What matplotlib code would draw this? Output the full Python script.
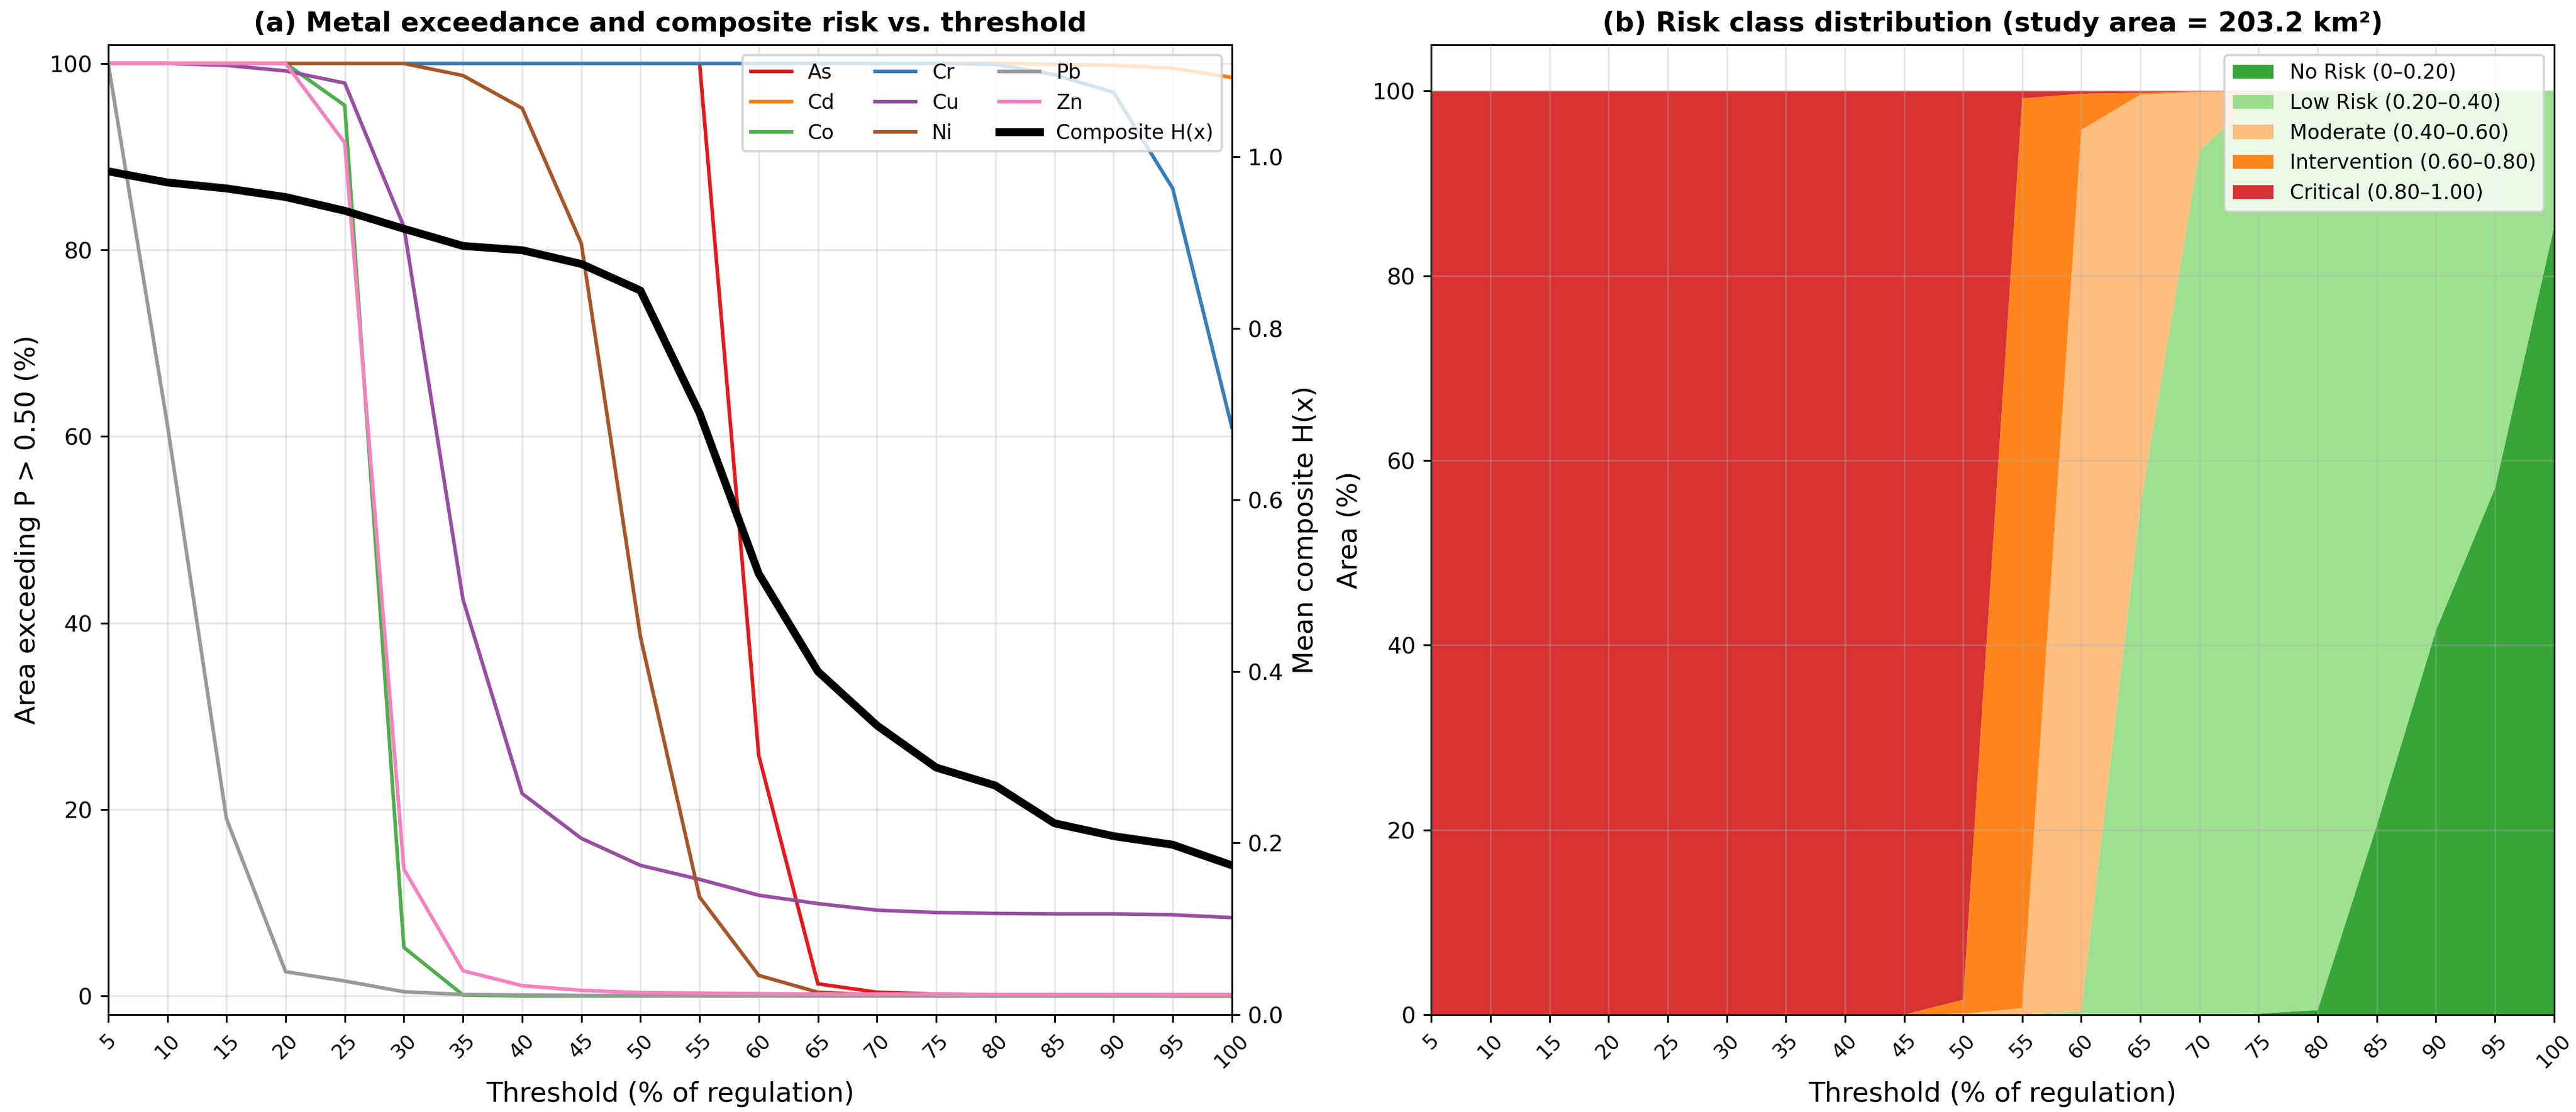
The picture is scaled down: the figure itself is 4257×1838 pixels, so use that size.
import numpy as np
import matplotlib
matplotlib.use("Agg")
import matplotlib.pyplot as plt

# thresholds (% of regulation)
thresholds = [5, 10, 15, 20, 25, 30, 35, 40, 45, 50, 55, 60, 65, 70, 75, 80, 85, 90, 95, 100]

# area exceeding P > 0.50 (%) per metal
As = [100, 100, 100, 100, 100, 100, 100, 100, 100, 100, 100, 25.8, 1.3, 0.4, 0.2, 0.1, 0.1, 0.05, 0.0, 0.0]
Cd = [100, 100, 100, 100, 100, 100, 100, 100, 100, 100, 100, 100, 100, 100, 100, 100, 99.9, 99.8, 99.5, 98.5]
Co = [100, 100, 100, 100, 95.5, 5.2, 0.1, 0, 0, 0, 0, 0, 0, 0, 0, 0, 0, 0, 0, 0]
Cr = [100, 100, 100, 100, 100, 100, 100, 100, 100, 100, 100, 100, 100, 100, 100, 99.9, 98.8, 96.9, 86.6, 61.0]
Cu = [100, 100, 99.8, 99.2, 97.9, 82.5, 42.5, 21.7, 16.9, 14.0, 12.5, 10.8, 9.9, 9.2, 8.95, 8.85, 8.8, 8.8, 8.7, 8.4]
Ni = [100, 100, 100, 100, 100, 100, 98.7, 95.2, 80.7, 38.5, 10.6, 2.2, 0.4, 0.1, 0, 0, 0, 0, 0, 0]
Pb = [100, 61.3, 19.0, 2.6, 1.6, 0.45, 0.15, 0.1, 0.05, 0.05, 0, 0, 0, 0, 0, 0, 0, 0, 0, 0]
Zn = [100, 100, 100, 100, 91.5, 13.6, 2.7, 1.1, 0.6, 0.35, 0.3, 0.25, 0.2, 0.2, 0.2, 0.15, 0.15, 0.15, 0.15, 0.15]

# mean composite H(x)
composite = [0.983, 0.970, 0.963, 0.953, 0.937, 0.916, 0.896, 0.891, 0.875, 0.844,
             0.701, 0.514, 0.400, 0.337, 0.288, 0.267, 0.223, 0.208, 0.198, 0.174]

# risk class area (%)
no_risk = [0, 0, 0, 0, 0, 0, 0, 0, 0, 0, 0, 0, 0, 0, 0.1, 0.5, 20.5, 41.6, 57.0, 85.3]
low_risk = [0, 0, 0, 0, 0, 0, 0, 0, 0, 0, 0, 0.4, 55.1, 93.5, 99.5, 99.5, 79.5, 58.4, 43.0, 14.7]
moderate = [0, 0, 0, 0, 0, 0, 0, 0, 0, 0.1, 0.7, 95.4, 44.5, 6.4, 0.4, 0, 0, 0, 0, 0]
intervention = [0, 0, 0, 0, 0, 0, 0, 0, 0, 1.5, 98.5, 3.9, 0.2, 0.05, 0, 0, 0, 0, 0, 0]
critical = [100, 100, 100, 100, 100, 100, 100, 100, 100, 98.4, 0.8, 0.3, 0.2, 0.05, 0, 0, 0, 0, 0, 0]

metals = {'As': As, 'Cd': Cd, 'Co': Co, 'Cr': Cr, 'Cu': Cu, 'Ni': Ni, 'Pb': Pb, 'Zn': Zn}
metal_colors = {'As': '#e41a1c', 'Cd': '#ff7f00', 'Co': '#4daf4a', 'Cr': '#377eb8',
                'Cu': '#984ea3', 'Ni': '#a65628', 'Pb': '#999999', 'Zn': '#f781bf'}

class_labels = ['No Risk (0–0.20)', 'Low Risk (0.20–0.40)', 'Moderate (0.40–0.60)',
                'Intervention (0.60–0.80)', 'Critical (0.80–1.00)']
class_colors = ['#2ca02c', '#98df8a', '#ffbb78', '#ff7f0e', '#d62728']

DPI = 268
fig = plt.figure(figsize=(4257 / DPI, 1838 / DPI), dpi=DPI)

# ---------- (a) ----------
ax1 = fig.add_axes([0.0420, 0.0876, 0.4362, 0.8721])
for name, vals in metals.items():
    ax1.plot(thresholds, vals, color=metal_colors[name], lw=1.6, label=name)
ax1.set_xlim(5, 100)
ax1.set_ylim(-2, 102)
ax1.set_xticks(thresholds)
ax1.set_xticklabels([str(t) for t in thresholds], rotation=45, fontsize=9)
ax1.set_yticks([0, 20, 40, 60, 80, 100])
ax1.tick_params(axis='y', labelsize=10)
ax1.grid(alpha=0.3)
ax1.set_xlabel('Threshold (% of regulation)', fontsize=12)
ax1.set_ylabel('Area exceeding P > 0.50 (%)', fontsize=12)
ax1.set_title('(a) Metal exceedance and composite risk vs. threshold',
              fontsize=12, fontweight='bold')

ax2 = ax1.twinx()
ax2.plot(thresholds, composite, color='black', lw=3.5, label='Composite H(x)')
ax2.set_ylim(0, max(composite) * 1.15)
ax2.set_yticks([0.0, 0.2, 0.4, 0.6, 0.8, 1.0])
ax2.tick_params(axis='y', labelsize=10)
ax2.set_ylabel('Mean composite H(x)', fontsize=12)

h1, l1 = ax1.get_legend_handles_labels()
h2, l2 = ax2.get_legend_handles_labels()
ax2.legend(h1 + h2, l1 + l2, loc='upper right', ncol=3, fontsize=9)

# ---------- (b) ----------
ax3 = fig.add_axes([0.5556, 0.0876, 0.4359, 0.8721])
ax3.stackplot(thresholds, no_risk, low_risk, moderate, intervention, critical,
              colors=class_colors, labels=class_labels, alpha=0.95)
ax3.set_xlim(5, 100)
ax3.set_ylim(0, 105)
ax3.set_xticks(thresholds)
ax3.set_xticklabels([str(t) for t in thresholds], rotation=45, fontsize=9)
ax3.set_yticks([0, 20, 40, 60, 80, 100])
ax3.tick_params(axis='y', labelsize=10)
ax3.set_axisbelow(False)
ax3.grid(alpha=0.3)
ax3.set_xlabel('Threshold (% of regulation)', fontsize=12)
ax3.set_ylabel('Area (%)', fontsize=12)
ax3.yaxis.set_label_coords(-0.061, 0.5)
ax3.set_title('(b) Risk class distribution (study area = 203.2 km²)',
              fontsize=12, fontweight='bold')
ax3.legend(loc='upper right', fontsize=9)

fig.savefig('out.png', dpi=DPI)
